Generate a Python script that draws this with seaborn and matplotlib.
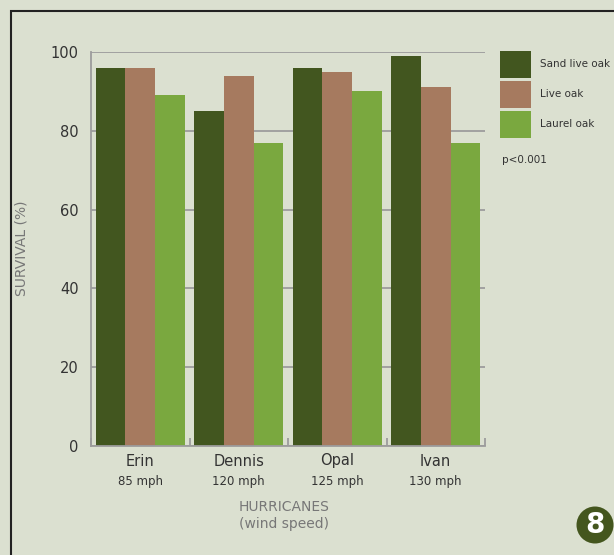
import numpy as np
import pandas as pd
import matplotlib
matplotlib.use("Agg")
import matplotlib.pyplot as plt
import matplotlib.patches as mpatches
import seaborn as sns

# Data
hurricanes = ["Erin", "Dennis", "Opal", "Ivan"]
wind_speed = ["85 mph", "120 mph", "125 mph", "130 mph"]
species = ["Sand live oak", "Live oak", "Laurel oak"]
sand_live_oak = [96, 85, 96, 99]
live_oak = [96, 94, 95, 91]
laurel_oak = [89, 77, 90, 77]
y_ticks = [0, 20, 40, 60, 80, 100]

colors = ["#42561f", "#a67a5f", "#7aa83f"]
bg = "#dbe0d0"
text_dark = "#333333"
text_gray = "#777777"
grid_gray = "#9c9c9c"

sns.set_theme(style="white")
plt.rcParams["font.family"] = ["DejaVu Sans"]

df = pd.DataFrame({
    "Hurricane": hurricanes * 3,
    "Species": np.repeat(species, len(hurricanes)),
    "Survival": sand_live_oak + live_oak + laurel_oak,
})

fig = plt.figure(figsize=(6.14, 5.55), dpi=100, facecolor=bg)
ax = fig.add_axes([91 / 614, 1 - 446 / 555, 394 / 614, 394 / 555])
ax.set_facecolor(bg)

sns.barplot(data=df, x="Hurricane", y="Survival", hue="Species",
            order=hurricanes, hue_order=species, palette=colors,
            width=0.9, gap=0, saturation=1, linewidth=0, ax=ax, legend=True)

ax.set_xlim(-0.5, len(hurricanes) - 0.5)
ax.set_ylim(0, 100)
ax.set_yticks(y_ticks)
ax.set_yticklabels([str(v) for v in y_ticks], fontsize=10.5, color=text_dark)
ax.tick_params(axis="y", length=0, pad=9)

# gridlines behind bars
ax.set_axisbelow(True)
ax.yaxis.grid(True, color=grid_gray, linewidth=1.3)
ax.xaxis.grid(False)

for side in ["top", "right"]:
    ax.spines[side].set_visible(False)
for side in ["left", "bottom"]:
    ax.spines[side].set_color(grid_gray)
    ax.spines[side].set_linewidth(1.3)

# group separator ticks pointing up
ax.set_xticks(np.arange(len(hurricanes)))
ax.set_xticklabels([])
ax.tick_params(axis="x", which="major", length=0)
ax.set_xticks(np.arange(-0.5, len(hurricanes)), minor=True)
ax.tick_params(axis="x", which="minor", direction="in", length=6,
               width=1.3, color=grid_gray, bottom=True)

ax.set_xlabel("")
ax.set_ylabel("")

trans = ax.get_xaxis_transform()
for i, (name, mph) in enumerate(zip(hurricanes, wind_speed)):
    ax.text(i, -15 / 394, name, transform=trans, ha="center", va="center",
            fontsize=10.5, color=text_dark)
    ax.text(i, -36 / 394, mph, transform=trans, ha="center", va="center",
            fontsize=8.5, color=text_dark)

fig.text(22 / 614, 1 - 248 / 555, "SURVIVAL (%)", rotation=90,
         ha="center", va="center", fontsize=10, color=text_gray)
fig.text(284 / 614, 1 - 507 / 555, "HURRICANES", ha="center", va="center",
         fontsize=10, color=text_gray)
fig.text(284 / 614, 1 - 524 / 555, "(wind speed)", ha="center", va="center",
         fontsize=10, color=text_gray)

# legend to the right
handles, labels = ax.get_legend_handles_labels()
ax.legend(handles, labels, loc="upper left",
          bbox_to_anchor=(500 / 614, 1 - 51 / 555), bbox_transform=fig.transFigure,
          frameon=False, fontsize=7.5, handlelength=3.0, handleheight=3.6,
          labelspacing=0.28, handletextpad=0.85, borderpad=0, borderaxespad=0,
          labelcolor=text_dark)

fig.text(502 / 614, 1 - 160 / 555, "p<0.001", ha="left", va="center",
         fontsize=7.5, color=text_dark)

# outer frame
frame = mpatches.Rectangle((11 / 614, -0.1), 1.2, (1 - 11 / 555) + 0.1,
                           transform=fig.transFigure, fill=False,
                           edgecolor="#222222", linewidth=1.5)
fig.patches.append(frame)

# figure number badge
badge = mpatches.Ellipse((595 / 614, 1 - 525 / 555), 37 / 614, 37 / 555,
                         transform=fig.transFigure, facecolor="#44561e",
                         edgecolor="none")
fig.patches.append(badge)
fig.text(595 / 614, 1 - 525 / 555, "8", ha="center", va="center",
         fontsize=20, fontweight="bold", color="white",
         family=["Liberation Sans Narrow", "DejaVu Sans"])

fig.savefig("out.png", dpi=100, facecolor=bg)
